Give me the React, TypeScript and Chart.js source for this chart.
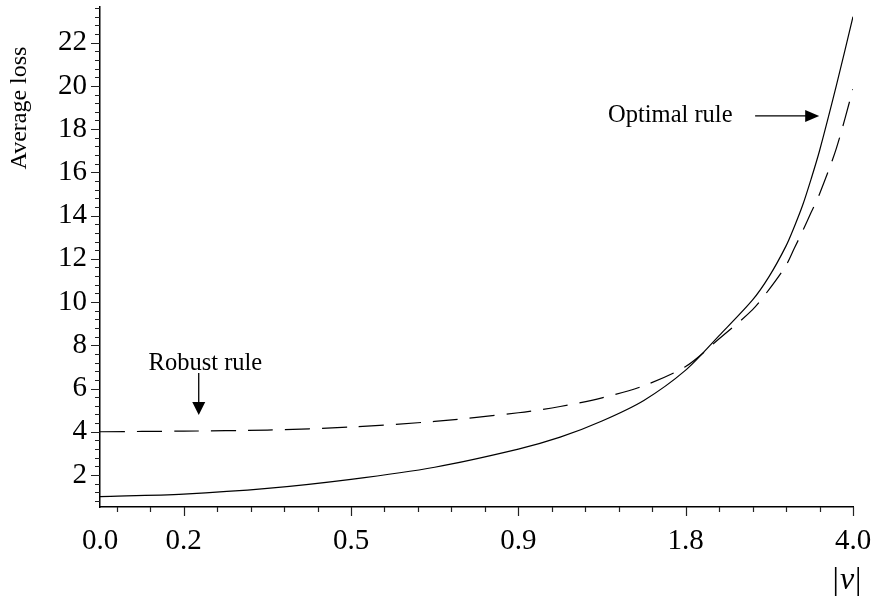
import React, { useEffect, useRef } from "react";
import { Chart, registerables } from "chart.js";

Chart.register(...registerables);

// x is the plotting parameter; tick labels give the |v| values printed at each major tick
const X_PARAM = [0.5, 1.0, 1.5, 2.0, 2.5, 3.0, 3.25, 3.5, 3.75, 4.0, 4.2, 4.4, 4.5, 4.6, 4.65, 4.7, 4.75, 4.8, 4.9, 5.0];
const OPTIMAL = [1.0, 1.12, 1.38, 1.8, 2.36, 3.2, 3.75, 4.5, 5.45, 6.85, 8.45, 10.1, 11.2, 12.6, 13.5, 14.5, 15.7, 17.0, 20.0, 23.2];
const ROBUST = [4.0, 4.03, 4.08, 4.22, 4.48, 4.88, 5.17, 5.57, 6.13, 7.02, 8.3, 9.65, 10.6, 11.7, 12.5, 13.3, 14.15, 15.0, 17.1, 19.85];

const X_MAJOR = [0.5, 1, 2, 3, 4, 5];
const X_TICK_LABELS = ["0.0", "0.2", "0.5", "0.9", "1.8", "4.0"];
const Y_TICKS = [2, 4, 6, 8, 10, 12, 14, 16, 18, 20, 22];

const SERIF = '"Liberation Serif", "Times New Roman", serif';

const annotationPlugin = {
  id: "annotations",
  afterDraw(chart: any) {
    const { ctx, scales, chartArea } = chart;
    const xs = scales.x;
    const ys = scales.y;
    ctx.save();

    // tick marks
    ctx.strokeStyle = "#222";
    ctx.lineWidth = 1.2;
    ctx.beginPath();
    for (let i = 3; i <= 25; i++) {
      const v = i * 0.2;
      const major = i % 5 === 0;
      const px = Math.round(xs.getPixelForValue(v)) + 0.5;
      ctx.moveTo(px, chartArea.bottom);
      ctx.lineTo(px, chartArea.bottom + (major ? 9 : 5));
    }
    for (let i = 2; i <= 59; i++) {
      const v = i * 0.4;
      const major = i % 5 === 0;
      const py = Math.round(ys.getPixelForValue(v)) + 0.5;
      ctx.moveTo(chartArea.left, py);
      ctx.lineTo(chartArea.left - (major ? 9 : 5), py);
    }
    ctx.stroke();

    ctx.fillStyle = "#000";
    ctx.strokeStyle = "#000";

    // y axis title
    ctx.save();
    ctx.font = `24px ${SERIF}`;
    ctx.translate(20, 108);
    ctx.rotate(-Math.PI / 2);
    ctx.textAlign = "center";
    ctx.textBaseline = "middle";
    ctx.fillText("Average loss", 0, 0);
    ctx.restore();

    // x axis title |v|
    ctx.font = `32px ${SERIF}`;
    const wBar = ctx.measureText("|").width;
    ctx.font = `italic 32px ${SERIF}`;
    const wV = ctx.measureText("v").width;
    const total = wBar * 2 + wV + 2;
    const sx = 847 - total / 2;
    ctx.textAlign = "left";
    ctx.textBaseline = "alphabetic";
    ctx.font = `32px ${SERIF}`;
    ctx.fillText("|", sx, 589);
    ctx.font = `italic 32px ${SERIF}`;
    ctx.fillText("v", sx + wBar + 1, 589);
    ctx.font = `32px ${SERIF}`;
    ctx.fillText("|", sx + wBar + wV + 2, 589);

    // annotations
    ctx.font = `24.5px ${SERIF}`;
    ctx.textBaseline = "middle";
    ctx.textAlign = "center";
    ctx.fillText("Robust rule", xs.getPixelForValue(1.13), ys.getPixelForValue(7.14));
    ctx.textAlign = "left";
    ctx.fillText("Optimal rule", xs.getPixelForValue(3.536), ys.getPixelForValue(18.61));

    // robust arrow (down)
    const ax = xs.getPixelForValue(1.09);
    const ay0 = ys.getPixelForValue(6.72);
    const ay1 = ys.getPixelForValue(4.78);
    ctx.lineWidth = 1.3;
    ctx.beginPath();
    ctx.moveTo(ax, ay0);
    ctx.lineTo(ax, ay1 - 12);
    ctx.stroke();
    ctx.beginPath();
    ctx.moveTo(ax - 6.5, ay1 - 13);
    ctx.lineTo(ax + 6.5, ay1 - 13);
    ctx.lineTo(ax, ay1);
    ctx.closePath();
    ctx.fill();

    // optimal arrow (right)
    const bx0 = xs.getPixelForValue(4.415);
    const bx1 = xs.getPixelForValue(4.798);
    const by = ys.getPixelForValue(18.61);
    ctx.beginPath();
    ctx.moveTo(bx0, by);
    ctx.lineTo(bx1 - 12, by);
    ctx.stroke();
    ctx.beginPath();
    ctx.moveTo(bx1 - 14, by - 6);
    ctx.lineTo(bx1 - 14, by + 6);
    ctx.lineTo(bx1, by);
    ctx.closePath();
    ctx.fill();

    ctx.restore();
  },
};

export default function App() {
  const canvasRef = useRef<HTMLCanvasElement | null>(null);

  useEffect(() => {
    const canvas = canvasRef.current;
    if (!canvas) return;
    const chart = new Chart(canvas, {
      type: "line",
      data: {
        datasets: [
          {
            label: "Optimal rule",
            data: X_PARAM.map((x, i) => ({ x, y: OPTIMAL[i] })),
            borderColor: "#000",
            borderWidth: 1.2,
            pointRadius: 0,
            fill: false,
            tension: 0.3,
          },
          {
            label: "Robust rule",
            data: X_PARAM.map((x, i) => ({ x, y: ROBUST[i] })),
            borderColor: "#000",
            borderWidth: 1.2,
            borderDash: [25, 12],
            pointRadius: 0,
            fill: false,
            tension: 0.3,
          },
        ],
      },
      options: {
        responsive: false,
        animation: false,
        events: [],
        layout: { padding: { top: 7, right: 32, left: 0, bottom: 0 } },
        plugins: { legend: { display: false }, tooltip: { enabled: false } },
        scales: {
          x: {
            type: "linear",
            min: 0.5,
            max: 5,
            afterBuildTicks: (s: any) => {
              s.ticks = X_MAJOR.map((v) => ({ value: v }));
            },
            afterFit: (s: any) => {
              s.height = 91;
              s.paddingLeft = 0;
              s.paddingRight = 0;
            },
            ticks: {
              autoSkip: false,
              maxRotation: 0,
              padding: 17,
              color: "#000",
              font: { family: SERIF, size: 29 },
              callback: (v: any) => {
                const idx = X_MAJOR.indexOf(Number(v));
                return idx >= 0 ? X_TICK_LABELS[idx] : "";
              },
            },
            grid: { display: false, drawTicks: false },
            border: { display: true, color: "#000", width: 1.5 },
          },
          y: {
            type: "linear",
            min: 0.52,
            max: 23.65,
            afterBuildTicks: (s: any) => {
              s.ticks = Y_TICKS.map((v) => ({ value: v }));
            },
            afterFit: (s: any) => {
              s.width = 100;
              s.paddingTop = 0;
              s.paddingBottom = 0;
            },
            ticks: {
              autoSkip: false,
              padding: 13,
              color: "#000",
              font: { family: SERIF, size: 29 },
              callback: (v: any) => String(v),
            },
            grid: { display: false, drawTicks: false },
            border: { display: true, color: "#000", width: 1.5 },
          },
        },
      },
      plugins: [annotationPlugin],
    } as any);
    return () => chart.destroy();
  }, []);

  return (
    <div style={{ position: "fixed", left: 0, top: 0, width: 885, height: 598, background: "#fff" }}>
      <canvas ref={canvasRef} width={885} height={598} />
    </div>
  );
}
